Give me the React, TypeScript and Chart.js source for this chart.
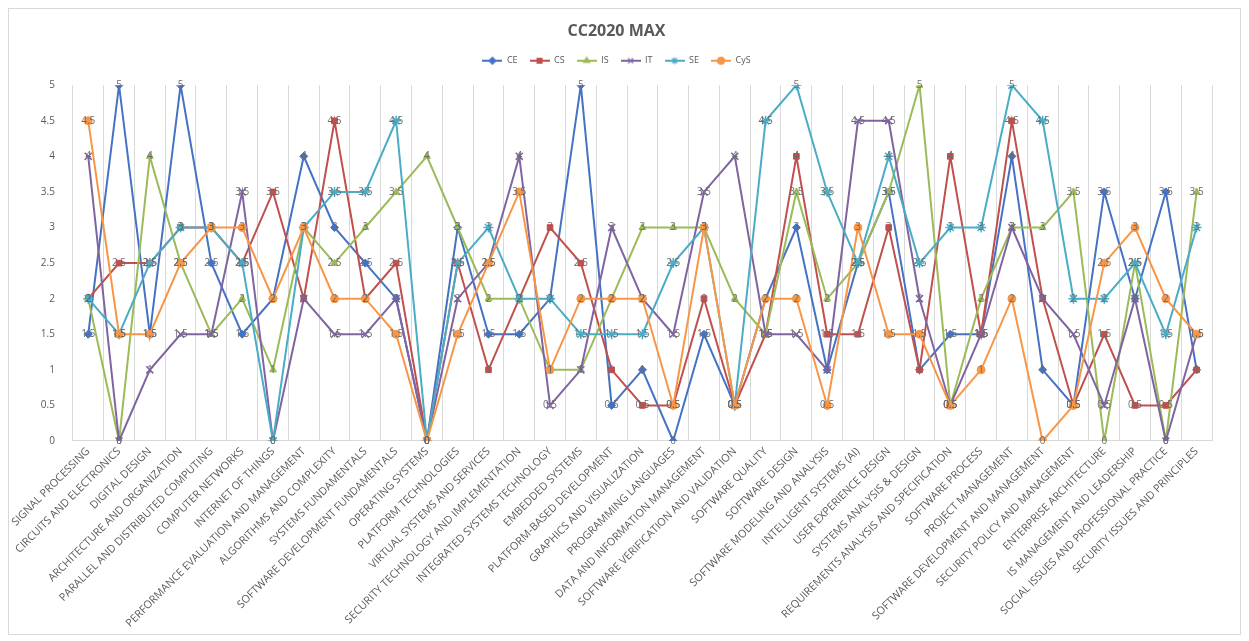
import React, { useEffect, useRef } from "react";
import { Chart, registerables } from "chart.js";
import { drawPoint } from "chart.js/helpers";

Chart.register(...registerables);

const categories = [
  "SIGNAL PROCESSING",
  "CIRCUITS AND ELECTRONICS",
  "DIGITAL DESIGN",
  "ARCHITECTURE AND ORGANIZATION",
  "PARALLEL AND DISTRIBUTED COMPUTING",
  "COMPUTER NETWORKS",
  "INTERNET OF THINGS",
  "PERFORMANCE EVALUATION AND MANAGEMENT",
  "ALGORITHMS AND COMPLEXITY",
  "SYSTEMS FUNDAMENTALS",
  "SOFTWARE DEVELOPMENT FUNDAMENTALS",
  "OPERATING SYSTEMS",
  "PLATFORM TECHNOLOGIES",
  "VIRTUAL SYSTEMS AND SERVICES",
  "SECURITY TECHNOLOGY AND IMPLEMENTATION",
  "INTEGRATED SYSTEMS TECHNOLOGY",
  "EMBEDDED SYSTEMS",
  "PLATFORM-BASED DEVELOPMENT",
  "GRAPHICS AND VISUALIZATION",
  "PROGRAMMING LANGUAGES",
  "DATA AND INFORMATION MANAGEMENT",
  "SOFTWARE VERIFICATION AND VALIDATION",
  "SOFTWARE QUALITY",
  "SOFTWARE DESIGN",
  "SOFTWARE MODELING AND ANALYSIS",
  "INTELLIGENT SYSTEMS (AI)",
  "USER EXPERIENCE DESIGN",
  "SYSTEMS ANALYSIS & DESIGN",
  "REQUIREMENTS ANALYSIS AND SPECIFICATION",
  "SOFTWARE PROCESS",
  "PROJECT MANAGEMENT",
  "SOFTWARE DEVELOPMENT AND MANAGEMENT",
  "SECURITY POLICY AND MANAGEMENT",
  "ENTERPRISE ARCHITECTURE",
  "IS MANAGEMENT AND LEADERSHIP",
  "SOCIAL ISSUES AND PROFESSIONAL PRACTICE",
  "SECURITY ISSUES AND PRINCIPLES",
];

const ceValues = [1.5, 5, 1.5, 5, 2.5, 1.5, 2, 4, 3, 2.5, 2, 0, 3, 1.5, 1.5, 2, 5, 0.5, 1, 0, 1.5, 0.5, 2, 3, 1, 2.5, 3.5, 1, 1.5, 1.5, 4, 1, 0.5, 3.5, 2, 3.5, 1];
const csValues = [2, 2.5, 2.5, 3, 3, 2.5, 3.5, 2, 4.5, 2, 2.5, 0, 2.5, 1, 2, 3, 2.5, 1, 0.5, 0.5, 2, 0.5, 1.5, 4, 1.5, 1.5, 3, 1, 4, 1.5, 4.5, 2, 0.5, 1.5, 0.5, 0.5, 1];
const isValues = [2, 0, 4, 2.5, 1.5, 2, 1, 3, 2.5, 3, 3.5, 4, 3, 2, 2, 1, 1, 2, 3, 3, 3, 2, 1.5, 3.5, 2, 2.5, 3.5, 5, 0.5, 2, 3, 3, 3.5, 0, 2.5, 0, 3.5];
const itValues = [4, 0, 1, 1.5, 1.5, 3.5, 0, 2, 1.5, 1.5, 2, 0, 2, 2.5, 4, 0.5, 1, 3, 2, 1.5, 3.5, 4, 1.5, 1.5, 1, 4.5, 4.5, 2, 0.5, 1.5, 3, 2, 1.5, 0.5, 2, 0, 1.5];
const seValues = [2, 1.5, 2.5, 3, 3, 2.5, 0, 3, 3.5, 3.5, 4.5, 0, 2.5, 3, 2, 2, 1.5, 1.5, 1.5, 2.5, 3, 0.5, 4.5, 5, 3.5, 2.5, 4, 2.5, 3, 3, 5, 4.5, 2, 2, 2.5, 1.5, 3];
const cysValues = [4.5, 1.5, 1.5, 2.5, 3, 3, 2, 3, 2, 2, 1.5, 0, 1.5, 2.5, 3.5, 1, 2, 2, 2, 0.5, 3, 0.5, 2, 2, 0.5, 3, 1.5, 1.5, 0.5, 1, 2, 0, 0.5, 2.5, 3, 2, 1.5];

const seriesNames = ["CE", "CS", "IS", "IT", "SE", "CyS"];
const seriesColors = ["#4472C4", "#C0504D", "#9BBB59", "#8064A2", "#4BACC6", "#F79646"];
const seriesMarkers = ["rectRot", "rect", "triangle", "crossRot", "star", "circle"];
const yTicks = [0, 0.5, 1, 1.5, 2, 2.5, 3, 3.5, 4, 4.5, 5];

function makeLegendSymbol(color: string, marker: string) {
  const c = document.createElement("canvas");
  c.width = 20;
  c.height = 10;
  const ctx = c.getContext("2d")!;
  ctx.strokeStyle = color;
  ctx.lineWidth = 2;
  ctx.beginPath();
  ctx.moveTo(0, 5);
  ctx.lineTo(20, 5);
  ctx.stroke();
  ctx.fillStyle = color;
  ctx.strokeStyle = color;
  ctx.lineWidth = 1.2;
  drawPoint(ctx, { pointStyle: marker as any, radius: 3.5, rotation: 0, borderWidth: 1.2 } as any, 10, 5);
  return c;
}

const dataLabelPlugin = {
  id: "dataLabels",
  afterDatasetsDraw(chart: any) {
    const ctx = chart.ctx;
    ctx.save();
    ctx.font = "10px 'Open Sans'";
    ctx.fillStyle = "#6b6b6b";
    ctx.textAlign = "center";
    ctx.textBaseline = "middle";
    chart.data.datasets.forEach((ds: any, i: number) => {
      const meta = chart.getDatasetMeta(i);
      meta.data.forEach((pt: any, j: number) => {
        const v = ds.data[j];
        ctx.fillText(String(v), pt.x, pt.y);
      });
    });
    ctx.restore();
  },
};

const legendMarginPlugin = {
  id: "legendMargin",
  beforeInit(chart: any) {
    const legend = chart.legend;
    if (!legend) return;
    const origFit = legend.fit;
    legend.fit = function () {
      origFit.call(this);
      this.height += 10;
    };
  },
};

export default function App() {
  const ref = useRef<HTMLCanvasElement>(null);
  useEffect(() => {
    if (!ref.current) return;
    const all = [ceValues, csValues, isValues, itValues, seValues, cysValues];
    const symbols = seriesColors.map((c, i) => makeLegendSymbol(c, seriesMarkers[i]));
    const chart = new Chart(ref.current, {
      type: "line",
      data: {
        labels: categories,
        datasets: all.map((vals, i) => ({
          label: seriesNames[i],
          data: vals,
          borderColor: seriesColors[i],
          backgroundColor: seriesColors[i],
          pointBackgroundColor: seriesColors[i],
          pointBorderColor: seriesColors[i],
          pointStyle: seriesMarkers[i] as any,
          pointRadius: seriesMarkers[i] === "crossRot" || seriesMarkers[i] === "star" ? 5 : 4,
          pointBorderWidth: seriesMarkers[i] === "crossRot" || seriesMarkers[i] === "star" ? 1.5 : 1,
          borderWidth: 2,
          tension: 0,
          fill: false,
          order: 6 - i,
        })),
      },
      options: {
        animation: false,
        responsive: false,
        maintainAspectRatio: false,
        layout: { padding: { left: 12, right: 28, top: 6, bottom: 0 } },
        plugins: {
          title: {
            display: true,
            text: "CC2020 MAX",
            color: "#595959",
            font: { family: "'Open Sans'", size: 16, weight: "bold" },
            padding: { top: 7, bottom: 3 },
          },
          legend: {
            display: true,
            position: "top",
            labels: {
              sort: (a: any, b: any) => a.datasetIndex - b.datasetIndex,
              usePointStyle: true,
              pointStyleWidth: 20,
              boxWidth: 20,
              boxHeight: 8,
              color: "#595959",
              font: { family: "'Open Sans'", size: 9 },
              padding: 12,
              generateLabels: (ch: any) => {
                const items = Chart.defaults.plugins.legend.labels.generateLabels(ch);
                return items.map((it: any) => ({ ...it, pointStyle: symbols[it.datasetIndex] }));
              },
            },
          },
          tooltip: { enabled: false },
        },
        scales: {
          x: {
            offset: true,
            grid: { offset: true, color: "#d9d9d9", drawTicks: false },
            border: { display: true, color: "#d9d9d9" },
            ticks: {
              autoSkip: false,
              maxRotation: 45,
              minRotation: 45,
              color: "#595959",
              font: { family: "'Open Sans'", size: 10.8 },
              padding: 4,
            },
          },
          y: {
            min: 0,
            max: 5,
            afterBuildTicks: (axis: any) => {
              axis.ticks = yTicks.map((v) => ({ value: v }));
            },
            grid: { display: false },
            border: { display: false },
            ticks: {
              color: "#595959",
              font: { family: "'Open Sans'", size: 10 },
              padding: 10,
              callback: (v: any) => String(v),
            },
          },
        },
      },
      plugins: [legendMarginPlugin, dataLabelPlugin],
    });
    return () => chart.destroy();
  }, []);
  return (
    <div style={{ width: 1231, height: 625, border: "1px solid #d9d9d9", fontFamily: "'Open Sans'" }}>
      <canvas ref={ref} width={1231} height={625} style={{ display: "block" }} />
    </div>
  );
}
